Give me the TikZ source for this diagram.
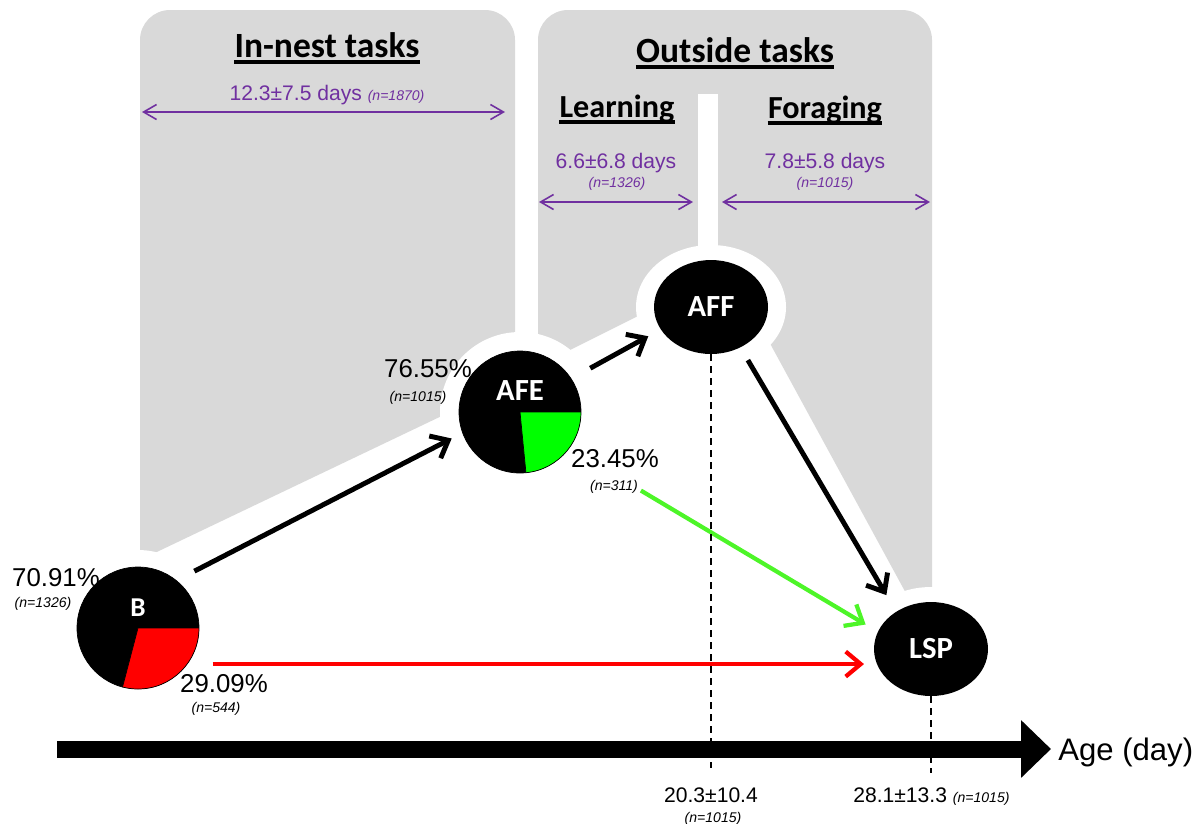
\documentclass[tikz,border=0pt]{standalone}
\usepackage{fontspec}
\setmainfont{Liberation Sans}
\newfontfamily\calibri{Carlito}
\usetikzlibrary{backgrounds,arrows.meta,shapes.geometric}
\definecolor{panelgray}{HTML}{D9D9D9}
\definecolor{durpurple}{HTML}{7030A0}
\definecolor{flowgreen}{RGB}{77,245,40}

\begin{document}
\begin{tikzpicture}[x=0.02cm,y=-0.02cm]
\tikzstyle{stage}=[ellipse,fill=black,inner sep=0,minimum width=2.28cm,minimum height=1.88cm,text=white,font=\calibri\bfseries\fontsize{17.5}{17.5}\selectfont]
\tikzset{piestage/.style 2 args={circle,fill=black,draw=black,inner sep=0,minimum size=2.44cm,text=white,font=\calibri\bfseries\fontsize{17.5}{17.5}\selectfont,text height=10pt,text depth=0.8cm,
  path picture={\fill[#1,draw=black,thin] (path picture bounding box.center) -- +(0:3cm) -- +(-#2/2:3cm) -- +(-#2:3cm) -- cycle;}}}
\tikzstyle{title}=[anchor=base,inner sep=0,font=\calibri\bfseries\fontsize{20.2}{22}\selectfont]
\tikzstyle{subtitle}=[anchor=base,inner sep=0,font=\calibri\bfseries\fontsize{18.3}{20}\selectfont]
\tikzstyle{uline}=[line width=2pt]
\tikzstyle{dur}=[anchor=base,inner sep=0,text=durpurple,font=\fontsize{12}{13}\selectfont]
\tikzstyle{durn}=[anchor=base,inner sep=0,text=durpurple,font=\itshape\fontsize{8}{9}\selectfont]
\tikzstyle{pct}=[anchor=base,inner sep=0,font=\fontsize{14.7}{16}\selectfont]
\tikzstyle{nsmall}=[anchor=base,inner sep=0,font=\itshape\fontsize{8}{9}\selectfont]
\tikzstyle{tlabel}=[anchor=base,inner sep=0,font=\fontsize{12}{13}\selectfont]
\tikzstyle{span}=[durpurple,line width=0.9pt,{Straight Barb[length=0.26cm,width=0.3cm]}-{Straight Barb[length=0.26cm,width=0.3cm]}]
\tikzstyle{flow}=[line width=2.8pt,-{Straight Barb[length=0.3cm,width=0.5cm]}]
\tikzstyle{guide}=[line width=0.7pt,dash pattern=on 0.14cm off 0.1cm]
\useasboundingbox (0,0) rectangle (1202,823);

% stages
\node[piestage={red}{104.7},font=\calibri\bfseries\fontsize{15.5}{15.5}\selectfont] (B) at (138,628) {B};
\node[piestage={green}{84.4}] (AFE) at (520,412) {AFE};
\node[stage] (AFF) at (711,307) {AFF};
\node[stage] (LSP) at (931,649) {LSP};

% task panels
\begin{scope}[on background layer]
\fill[panelgray] (140,560) -- (140,200) [rounded corners=0.6cm] -- (140,10) -- (515,10) -- (515,200) [sharp corners] -- (515,381) -- cycle;
\fill[panelgray] (538,366) -- (538,200) [rounded corners=0.6cm] -- (538,10) -- (932,10) -- (932,200) [sharp corners] -- (932,641) -- (730,270) -- cycle;
\fill[white] (B) circle (78);
\fill[white] (AFE) circle (80);
\fill[white] (AFF) ellipse [x radius=75,y radius=62];
\fill[white] (LSP) ellipse [x radius=75,y radius=62];
\fill[white] (698,94) rectangle (718,300);
\end{scope}

\node[title] (innest) at (327,57) {In-nest tasks};
\node[title] (outside) at (735,62) {Outside tasks};
\node[subtitle] (learn) at (617,117) {Learning};
\node[subtitle] (forage) at (825,118) {Foraging};
\foreach \t in {innest,outside,learn,forage}
  \draw[uline] ([yshift=-2.8pt]\t.base west) -- ([yshift=-2.8pt]\t.base east);

% durations
\node[dur] (d1) at (327,100) {12.3±7.5 days {\itshape\fontsize{8}{9}\selectfont (n=1870)}};
\node[dur] (d2) at (616,168) {6.6±6.8 days};
\node[durn] (d2n) at (617,187) {(n=1326)};
\node[dur] (d3) at (825,168) {7.8±5.8 days};
\node[durn] (d3n) at (825,187) {(n=1015)};
\coordinate (s1a) at (142,112);
\coordinate (s1b) at (505,112);
\coordinate (s2a) at (539,202);
\coordinate (s2b) at (693,202);
\coordinate (s3a) at (722,202);
\coordinate (s3b) at (930,202);
\draw[span] (s1a) -- (s1b);
\draw[span] (s2a) -- (s2b);
\draw[span] (s3a) -- (s3b);

% proportions
\node[pct] (pB) at (56,586) {70.91\%};
\node[nsmall] (pBn) at (43,607) {(n=1326)};
\node[pct] (qB) at (224,692) {29.09\%};
\node[nsmall] (qBn) at (216,712) {(n=544)};
\node[pct] (pAFE) at (428,377) {76.55\%};
\node[nsmall] (pAFEn) at (418,401) {(n=1015)};
\node[pct] (qAFE) at (615,467) {23.45\%};
\node[nsmall] (qAFEn) at (614,490) {(n=311)};

% transitions
\draw[flow,shorten <=0.4cm,shorten >=0.24cm] (B.51.6) -- (AFE.200);
\draw[flow,shorten <=0.43cm,shorten >=0.28cm] (AFE.33) -- (AFF.204);
\draw[flow,shorten <=0.29cm,shorten >=0.38cm] (AFF.-54) -- (LSP.133);
\draw[flow,flowgreen,line width=2.4pt,shorten <=1.66cm,shorten >=0.28cm] (AFE.-36) -- (LSP.162.6);
\draw[flow,red,line width=2.4pt,shorten <=0.5cm,shorten >=0.23cm] (B.-36) -- (B.-36 -| LSP.192);

% age axis
\coordinate (e1) at (711,768);
\coordinate (e2) at (931,773);
\draw[guide] (AFF.south) -- (e1);
\draw[guide] (LSP.south) -- (e2);
\node[anchor=base west,inner sep=0,font=\fontsize{17.7}{19}\selectfont] (age) at (1058,760) {Age (day)};
\coordinate (t0) at (57,749);
\draw[line width=0.34cm,-{Triangle[length=0.6cm,width=1.12cm]},shorten >=0.14cm] (t0) -- (t0 -| age.west);
\node[tlabel] (tAFF) at (711,802) {20.3±10.4};
\node[nsmall] (tAFFn) at (713,822) {(n=1015)};
\node[tlabel,anchor=base west] (tLSP) at (853,802) {28.1±13.3 {\itshape\fontsize{8}{9}\selectfont (n=1015)}};
\end{tikzpicture}
\end{document}
